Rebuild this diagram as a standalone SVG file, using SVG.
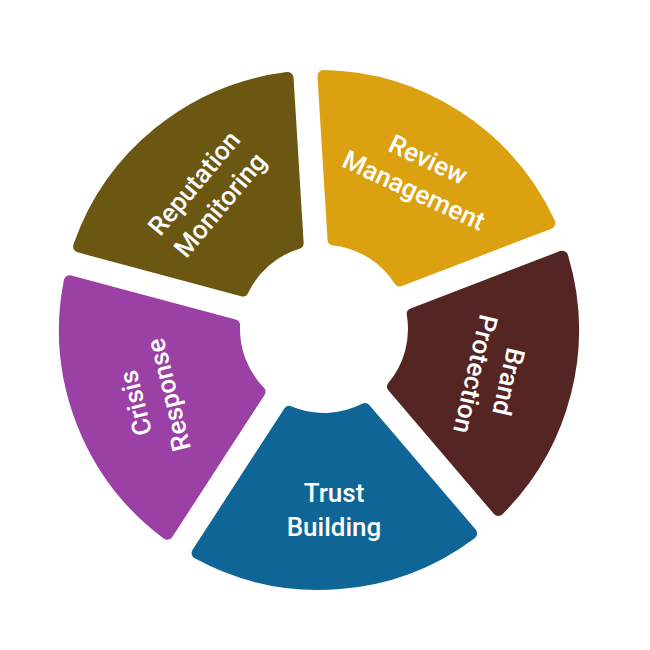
<svg xmlns="http://www.w3.org/2000/svg" width="650" height="650" viewBox="0 0 650 650">
  <style>
    .seg { stroke-width: 12; stroke-linejoin: round; }
    .lbl { font-family: Roboto, "Liberation Sans", sans-serif; font-weight: 500; font-size: 26px; fill: #ffffff; text-anchor: middle; }
  </style>
  <rect width="650" height="650" fill="#ffffff"/>
  <g id="review">
    <path class="seg" fill="#dca111" stroke="#dca111" d="M333.50,239.50 L323.50,76.05 A254,254 0 0 1 549.39,223.05 L399.80,280.47 A90,90 0 0 0 333.50,239.50 Z"/>
    <text class="lbl" transform="translate(421,175) rotate(25)"><tspan x="0" y="-8">Review</tspan><tspan x="0" y="26">Management</tspan></text>
  </g>
  <g id="brand">
    <path class="seg" fill="#552523" stroke="#552523" d="M412.75,314.06 L562.19,256.70 A254,254 0 0 1 498.32,509.90 L393.08,386.68 A90,90 0 0 0 412.75,314.06 Z"/>
    <text class="lbl" transform="translate(492,378) rotate(103)"><tspan x="0" y="-8">Brand</tspan><tspan x="0" y="26">Protection</tspan></text>
  </g>
  <g id="trust">
    <path class="seg" fill="#0e6596" stroke="#0e6596" d="M364.93,409.15 L471.08,533.44 A254,254 0 0 1 197.58,553.10 L289.21,412.00 A90,90 0 0 0 364.93,409.15 Z"/>
    <text class="lbl" transform="translate(334,510)"><tspan x="0" y="-8">Trust</tspan><tspan x="0" y="26">Building</tspan></text>
  </g>
  <g id="crisis">
    <path class="seg" fill="#9b40a4" stroke="#9b40a4" d="M259.46,391.72 L167.26,533.69 A254,254 0 0 1 69.71,281.30 L234.07,325.34 A90,90 0 0 0 259.46,391.72 Z"/>
    <text class="lbl" transform="translate(152,399) rotate(-104)"><tspan x="0" y="-8">Crisis</tspan><tspan x="0" y="26">Response</tspan></text>
  </g>
  <g id="reputation">
    <path class="seg" fill="#6b5711" stroke="#6b5711" d="M242.71,290.39 L79.10,246.55 A254,254 0 0 1 287.55,77.96 L297.64,242.95 A90,90 0 0 0 242.71,290.39 Z"/>
    <text class="lbl" transform="translate(207,194) rotate(-50)"><tspan x="0" y="-8">Reputation</tspan><tspan x="0" y="26">Monitoring</tspan></text>
  </g>
  <g id="connectors"></g>
</svg>
